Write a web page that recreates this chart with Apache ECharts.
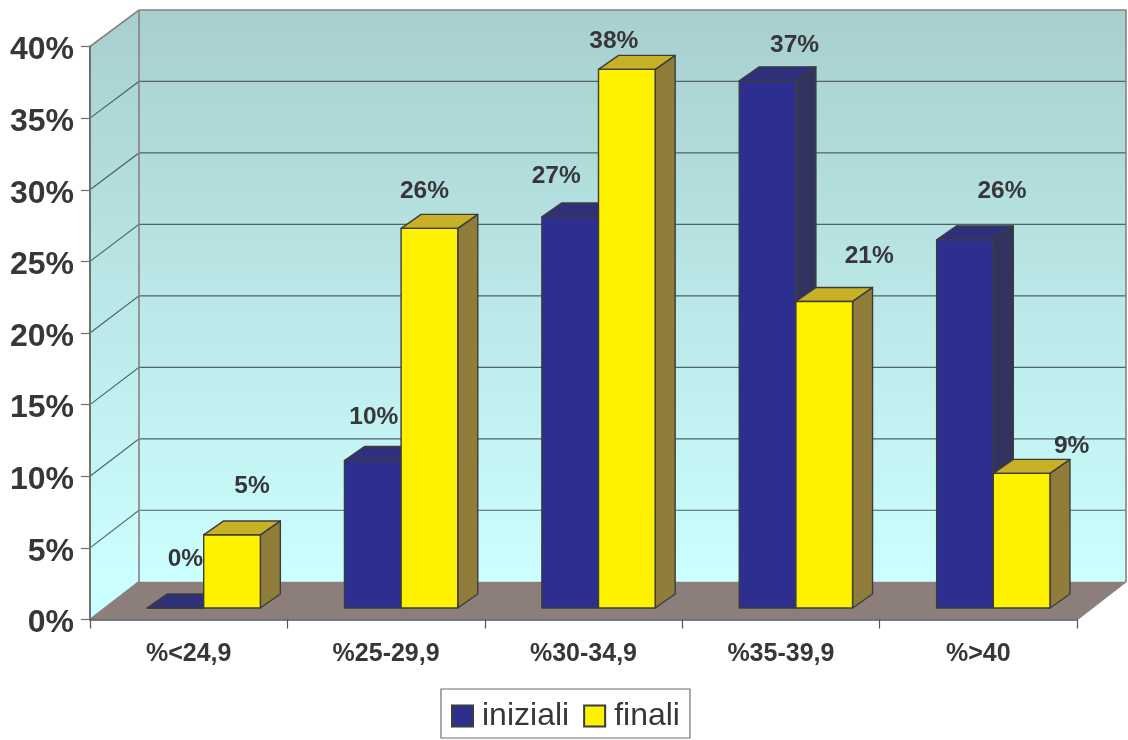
<!DOCTYPE html>
<html>
<head>
<meta charset="utf-8">
<style>html,body{margin:0;padding:0;background:#fff}#c{width:1128px;height:740px}</style>
<script src="https://cdn.jsdelivr.net/npm/echarts@6/dist/echarts.min.js"></script>
</head>
<body>
<div id="c"></div>
<script>
const categories = ['%<24,9', '%25-29,9', '%30-34,9', '%35-39,9', '%>40'];
const iniziali = [0, 10.3, 27.3, 36.8, 25.7];
const finali = [5.1, 26.5, 37.6, 21.4, 9.4];
const inizialiLabels = ['0%', '10%', '27%', '37%', '26%'];
const finaliLabels = ['5%', '26%', '38%', '21%', '9%'];
const yTicks = [5, 10, 15, 20, 25, 30, 35];

// layout constants of the 3D projection
const WALL = {dx: 49, dyBase: -37.8, dyTop: -36.5};
const BAR = {frontDx: 15, frontDy: -11.5, sideDx: 20, sideDy: -14, bandShare: 0.287};
const inizialiNudge = [[10, -49], [1, -43.5], [-14, -41], [27, -35.5], [37, -49]];
const finaliNudge = [[20, -49], [-5, -37], [-13, -28.5], [45, -45], [50, -27]];
const INK = '#37373b';

function renderWalls(params, api) {
  const cs = params.coordSys;
  const x0 = cs.x, x1 = cs.x + cs.width;
  const yBase = api.coord([0, 0])[1], yTop = api.coord([0, 40])[1];
  const dx = WALL.dx;
  const backBase = yBase + WALL.dyBase, backTop = yTop + WALL.dyTop;
  const backY = function (t) { return backBase + (backTop - backBase) * t / 40; };
  const grad = {type: 'linear', x: 0, y: backTop, x2: 0, y2: backBase, global: true,
    colorStops: [{offset: 0, color: '#a8cfcf'}, {offset: 1, color: '#ccffff'}]};
  const kids = [
    {type: 'polygon', shape: {points: [[x0, yTop], [x0 + dx, backTop], [x0 + dx, backBase], [x0, yBase]]},
      style: {fill: grad, stroke: null}},
    {type: 'polygon', shape: {points: [[x0 + dx, backTop], [x1 + dx, backTop], [x1 + dx, backBase], [x0 + dx, backBase]]},
      style: {fill: grad, stroke: null}},
    {type: 'polygon', shape: {points: [[x0, yBase], [x0 + dx, backBase], [x1 + dx, backBase], [x1, yBase]]},
      style: {fill: '#8c7f7b', stroke: null}}
  ];
  yTicks.forEach(function (t) {
    const y = api.coord([0, t])[1];
    kids.push({type: 'polyline', shape: {points: [[x0, y], [x0 + dx, backY(t)], [x1 + dx, backY(t)]]},
      style: {fill: null, stroke: '#4f6466', lineWidth: 1.2}});
  });
  kids.push({type: 'polyline', shape: {points: [[x0, yTop], [x0 + dx, backTop], [x1 + dx, backTop], [x1 + dx, backBase], [x1, yBase]]},
    style: {fill: null, stroke: '#8a8080', lineWidth: 1.6}});
  kids.push({type: 'polyline', shape: {points: [[x0 + dx, backTop], [x0 + dx, backBase], [x0, yBase]]},
    style: {fill: null, stroke: '#8a8080', lineWidth: 1.6}});
  return {type: 'group', children: kids};
}

function barRenderer(side, labels, nudges, colors) {
  return function (params, api) {
    const i = api.value(0), v = api.value(1);
    const band = api.size([1, 0])[0];
    const w = band * BAR.bandShare;
    const top = api.coord([i, v]), base = api.coord([i, 0]);
    const cx = top[0] + BAR.frontDx;
    const l = side < 0 ? cx - w : cx, r = l + w;
    const yT = top[1] + BAR.frontDy, yB = base[1] + BAR.frontDy;
    const sx = BAR.sideDx, sy = BAR.sideDy;
    const edge = {stroke: '#3c3c3c', lineWidth: 1.4, lineJoin: 'round'};
    const kids = [];
    if (v > 0) {
      kids.push({type: 'polygon', shape: {points: [[r, yT], [r + sx, yT + sy], [r + sx, yB + sy], [r, yB]]},
        style: Object.assign({fill: colors.side}, edge)});
    }
    kids.push({type: 'polygon', shape: {points: [[l, yT], [l + sx, yT + sy], [r + sx, yT + sy], [r, yT]]},
      style: Object.assign({fill: colors.top}, edge)});
    kids.push({type: 'rect', shape: {x: l, y: yT, width: w, height: yB - yT},
      style: Object.assign({fill: colors.front}, edge)});
    const n = nudges[i];
    kids.push({type: 'text', x: (l + r) / 2 + n[0], y: yT + n[1],
      style: {text: labels[i], fill: INK, align: 'center', verticalAlign: 'middle',
        font: 'bold 24.5px "Liberation Sans", Arial, sans-serif'}});
    return {type: 'group', children: kids};
  };
}

const chart = echarts.init(document.getElementById('c'), null, {renderer: 'canvas'});
chart.setOption({
  animation: false,
  backgroundColor: '#ffffff',
  grid: {left: 90, right: 51, top: 46.5, bottom: 120.5, containLabel: false},
  xAxis: {
    type: 'category', data: categories, boundaryGap: true, z: 10,
    axisLine: {show: true, lineStyle: {color: '#55555a', width: 1.5}},
    axisTick: {show: true, length: 9, lineStyle: {color: '#55555a', width: 1.2}},
    axisLabel: {color: INK, fontFamily: '"Liberation Sans", Arial, sans-serif', fontWeight: 'bold', fontSize: 25, margin: 22, interval: 0}
  },
  yAxis: {
    type: 'value', min: 0, max: 40, interval: 5, z: 10,
    axisLine: {show: true, lineStyle: {color: '#707070', width: 2}},
    axisTick: {show: true, length: 9, lineStyle: {color: '#707070', width: 1.2}},
    splitLine: {show: false},
    axisLabel: {color: INK, fontFamily: '"Liberation Sans", Arial, sans-serif', fontWeight: 'bold', fontSize: 32, margin: 16, verticalAlign: 'top', lineHeight: 8, formatter: '{value}%'}
  },
  legend: {
    left: 441, top: 689, orient: 'horizontal',
    data: ['iniziali', 'finali'],
    icon: 'rect', itemWidth: 21, itemHeight: 21, itemGap: 14,
    padding: [11, 10, 6, 10],
    borderColor: '#6e6e6e', borderWidth: 1.2, backgroundColor: '#ffffff',
    textStyle: {color: INK, fontFamily: '"Liberation Sans", Arial, sans-serif', fontSize: 32, padding: [0, 0, 0, 4]}
  },
  series: [
    {type: 'custom', name: 'walls', z: 1, silent: true, clip: false, renderItem: renderWalls, data: [[0, 0]]},
    {type: 'custom', name: 'iniziali', z: 2, clip: false,
      itemStyle: {color: '#2c2f8f', borderColor: '#3c3c3c', borderWidth: 1},
      encode: {x: 0, y: 1},
      renderItem: barRenderer(-1, inizialiLabels, inizialiNudge, {front: '#2c2f8f', top: '#2e3079', side: '#33335f'}),
      data: iniziali.map(function (v, i) { return [i, v]; })},
    {type: 'custom', name: 'finali', z: 3, clip: false,
      itemStyle: {color: '#fff200', borderColor: '#3c3c3c', borderWidth: 1},
      encode: {x: 0, y: 1},
      renderItem: barRenderer(1, finaliLabels, finaliNudge, {front: '#fff200', top: '#c8b027', side: '#917d3a'}),
      data: finali.map(function (v, i) { return [i, v]; })}
  ]
});
</script>
</body>
</html>
